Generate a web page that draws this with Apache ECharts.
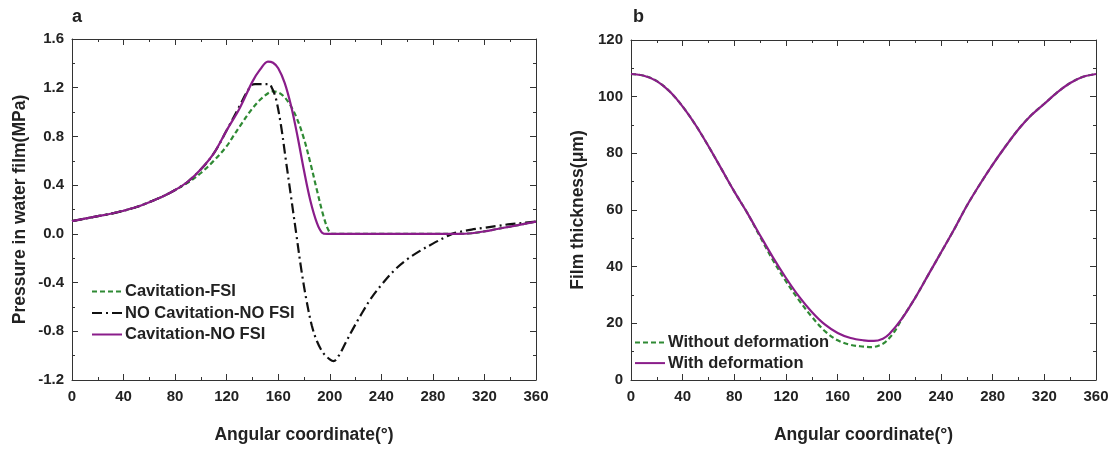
<!DOCTYPE html>
<html>
<head>
<meta charset="utf-8">
<script src="https://cdn.jsdelivr.net/npm/echarts@6/dist/echarts.min.js"></script>
<style>
html,body{margin:0;padding:0;background:#fff;}
#c{width:1115px;height:449px;}
</style>
</head>
<body>
<div id="c"></div>
<script>
// ---- Panel a: pressure in water film (MPa) vs angular coordinate (deg)
const cavFsiAngles = [0,10,20,30,40,50,60,70,80,90,100,110,120,125,130,140,148,156,162,168,174,180,185,190,195,199,202,240,280,300,310,320,330,340,350,360];
const cavFsiValues = [0.105,0.125,0.145,0.165,0.19,0.22,0.26,0.305,0.36,0.42,0.5,0.6,0.72,0.8,0.88,1.03,1.12,1.17,1.15,1.08,0.96,0.78,0.58,0.36,0.15,0.03,0,0,0,0,0.005,0.02,0.04,0.06,0.08,0.1];

const noCavAngles = [0,10,20,30,40,50,60,70,80,90,100,110,120,130,136,140,142,153,155,158,162,166,170,174,178,182,186,190,195,200,203,207,212,218,225,232,240,250,260,270,280,290,295,300,310,320,330,340,350,360];
const noCavValues = [0.105,0.125,0.145,0.165,0.19,0.22,0.26,0.305,0.36,0.43,0.53,0.66,0.85,1.05,1.17,1.225,1.23,1.23,1.2,1.12,0.9,0.6,0.3,0,-0.3,-0.55,-0.75,-0.88,-0.98,-1.03,-1.045,-1.0,-0.9,-0.78,-0.65,-0.53,-0.42,-0.3,-0.21,-0.14,-0.08,-0.025,0,0.015,0.035,0.05,0.065,0.08,0.09,0.1];

const cavNoFsiAngles = [0,10,20,30,40,50,60,70,80,90,100,110,120,130,140,146,152,156,160,165,170,175,180,185,190,194,198,240,280,300,310,320,330,340,350,360];
const cavNoFsiValues = [0.105,0.125,0.145,0.165,0.19,0.22,0.26,0.305,0.36,0.43,0.53,0.66,0.85,1.03,1.25,1.35,1.415,1.405,1.36,1.24,1.05,0.8,0.52,0.27,0.09,0.01,0,0,0,0,0.005,0.02,0.04,0.06,0.08,0.1];

// ---- Panel b: film thickness (um) vs angular coordinate (deg)
const withoutDefAngles = [0,10,20,30,40,50,60,70,80,90,100,110,120,130,140,150,160,170,180,186,195,200,205,210,220,230,240,250,260,270,280,290,300,310,320,330,340,350,360];
const withoutDefValues = [108,107.4,105.5,101.8,96.5,90,82.5,74.5,66.5,59,50.5,42.2,34.8,28.2,22.3,17.3,14,12.4,11.8,11.6,12.8,14.8,17.8,21.8,29,37,45,53,61.5,69,76,82.5,88.5,93.5,97.5,101.5,104.8,107,108];

const withDefAngles = [0,10,20,30,40,50,60,70,80,90,100,110,120,130,140,150,160,170,180,188,195,200,210,220,230,240,250,260,270,280,290,300,310,320,330,340,350,360];
const withDefValues = [108,107.4,105.5,101.8,96.5,90,82.5,74.5,66.5,59,51,43.2,36,29.5,24,19.6,16.6,14.8,14,13.8,14.6,16.2,21.8,29,37,45,53,61.5,69,76,82.5,88.5,93.5,97.5,101.5,104.8,107,108];

const xTicks = [0,40,80,120,160,200,240,280,320,360];
const pressureTicks = [-1.2,-0.8,-0.4,0.0,0.4,0.8,1.2,1.6];
const thicknessTicks = [0,20,40,60,80,100,120];

const zip = (a, b) => a.map((x, i) => [x, b[i]]);

const FONT = '"Liberation Sans", Arial, sans-serif';
const TXT = '#222';
const AX = '#333';
const GREEN = '#2f8a34';
const BLACK = '#111111';
const PURPLE = '#8a1d8a';
const TITLE_SIZE = 17.5;

function xAxisPair(gi, name) {
  const base = {
    gridIndex: gi, type: 'value', min: xTicks[0], max: xTicks[xTicks.length - 1], interval: 40,
    axisLine: {show: true, onZero: false, lineStyle: {color: AX, width: 1}},
    axisTick: {show: true, inside: true, length: 6, lineStyle: {color: AX}},
    minorTick: {show: true, splitNumber: 2, length: 3, lineStyle: {color: AX}},
    splitLine: {show: false}
  };
  return [
    Object.assign({}, base, {
      position: 'bottom',
      axisLabel: {show: true, margin: 9, color: TXT, fontFamily: FONT, fontWeight: 'bold', fontSize: 15},
      name: name, nameLocation: 'middle', nameGap: 46,
      nameTextStyle: {color: TXT, fontFamily: FONT, fontWeight: 'bold', fontSize: TITLE_SIZE}
    }),
    Object.assign({}, base, {position: 'top', axisLabel: {show: false}})
  ];
}

function yAxisPair(gi, ticks, interval, fmt, name, nameGap) {
  const base = {
    gridIndex: gi, type: 'value', min: ticks[0], max: ticks[ticks.length - 1], interval: interval,
    axisLine: {show: true, onZero: false, lineStyle: {color: AX, width: 1}},
    axisTick: {show: true, inside: true, length: 6, lineStyle: {color: AX}},
    minorTick: {show: true, splitNumber: 2, length: 3, lineStyle: {color: AX}},
    splitLine: {show: false}
  };
  return [
    Object.assign({}, base, {
      position: 'left',
      axisLabel: {show: true, margin: 8, color: TXT, fontFamily: FONT, fontWeight: 'bold', fontSize: 15, formatter: fmt},
      name: name, nameLocation: 'middle', nameGap: nameGap,
      nameTextStyle: {color: TXT, fontFamily: FONT, fontWeight: 'bold', fontSize: TITLE_SIZE}
    }),
    Object.assign({}, base, {position: 'right', axisLabel: {show: false}})
  ];
}

const chart = echarts.init(document.getElementById('c'), null, {renderer: 'canvas'});

const lineBase = {type: 'line', showSymbol: false, symbol: 'circle', smooth: 0.35, animation: false};

const legendText = {color: TXT, fontFamily: FONT, fontWeight: 'bold', fontSize: 16.5, lineHeight: 17, padding: [0, 0, 0, -2]};

chart.setOption({
  backgroundColor: '#fff',
  animation: false,
  grid: [
    {left: 72, top: 39, width: 464, height: 345},
    {left: 631, top: 40, width: 465, height: 345}
  ],
  xAxis: [].concat(xAxisPair(0, 'Angular coordinate(°)'), xAxisPair(1, 'Angular coordinate(°)')),
  yAxis: [].concat(
    yAxisPair(0, pressureTicks, 0.4, v => v.toFixed(1), 'Pressure in water film(MPa)', 43),
    yAxisPair(1, thicknessTicks, 20, v => String(v), 'Film thickness(μm)', 44)
  ),
  legend: [
    {
      orient: 'vertical', left: 91, top: 283, padding: 0, itemWidth: 30, itemHeight: 14, itemGap: 4.5,
      itemStyle: {opacity: 0},
      data: ['Cavitation-FSI', 'NO Cavitation-NO FSI', 'Cavitation-NO FSI'],
      textStyle: legendText
    },
    {
      orient: 'vertical', left: 634, top: 334, padding: 0, itemWidth: 30, itemHeight: 14, itemGap: 3.6,
      itemStyle: {opacity: 0},
      data: ['Without deformation', 'With deformation'],
      textStyle: legendText
    }
  ],
  graphic: [
    {type: 'text', left: 72, top: 8, style: {text: 'a', font: 'bold 18px ' + FONT, fill: TXT}},
    {type: 'text', left: 633, top: 8, style: {text: 'b', font: 'bold 18px ' + FONT, fill: TXT}}
  ],
  series: [
    Object.assign({}, lineBase, {
      name: 'Cavitation-FSI', xAxisIndex: 0, yAxisIndex: 0, z: 2,
      data: zip(cavFsiAngles, cavFsiValues),
      lineStyle: {color: GREEN, width: 2.2, type: [5, 3]}, itemStyle: {color: GREEN}
    }),
    Object.assign({}, lineBase, {
      name: 'NO Cavitation-NO FSI', xAxisIndex: 0, yAxisIndex: 0, z: 3,
      data: zip(noCavAngles, noCavValues),
      lineStyle: {color: BLACK, width: 2.2, type: [10, 4, 2, 4]}, itemStyle: {color: BLACK}
    }),
    Object.assign({}, lineBase, {
      name: 'Cavitation-NO FSI', xAxisIndex: 0, yAxisIndex: 0, z: 4,
      data: zip(cavNoFsiAngles, cavNoFsiValues),
      lineStyle: {color: PURPLE, width: 2.2}, itemStyle: {color: PURPLE}
    }),
    Object.assign({}, lineBase, {
      name: 'Without deformation', xAxisIndex: 2, yAxisIndex: 2, z: 2,
      data: zip(withoutDefAngles, withoutDefValues),
      lineStyle: {color: GREEN, width: 2.2, type: [5, 3]}, itemStyle: {color: GREEN}
    }),
    Object.assign({}, lineBase, {
      name: 'With deformation', xAxisIndex: 2, yAxisIndex: 2, z: 4,
      data: zip(withDefAngles, withDefValues),
      lineStyle: {color: PURPLE, width: 2.2}, itemStyle: {color: PURPLE}
    })
  ]
});
</script>
</body>
</html>
